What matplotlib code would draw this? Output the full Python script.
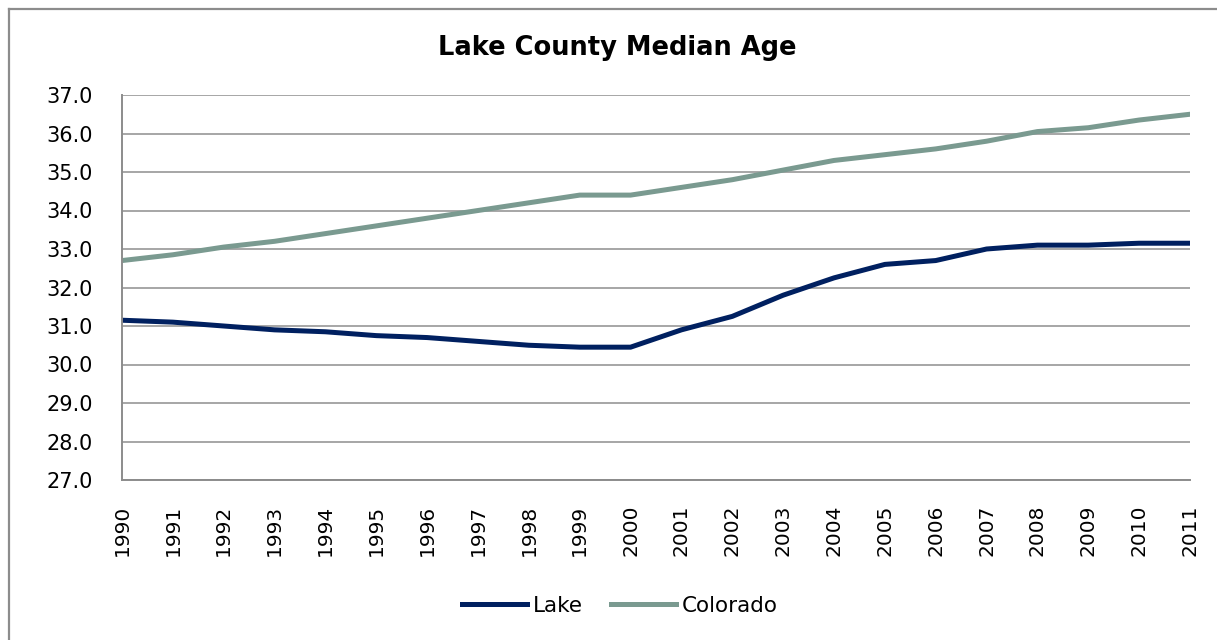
import matplotlib
matplotlib.use("Agg")
import matplotlib.pyplot as plt
from matplotlib.lines import Line2D

years = [str(y) for y in range(1990, 2012)]
lake = [31.15, 31.1, 31.0, 30.9, 30.85, 30.75, 30.7, 30.6, 30.5, 30.45, 30.45,
        30.9, 31.25, 31.8, 32.25, 32.6, 32.7, 33.0, 33.1, 33.1, 33.15, 33.15]
colorado = [32.7, 32.85, 33.05, 33.2, 33.4, 33.6, 33.8, 34.0, 34.2, 34.4, 34.4,
            34.6, 34.8, 35.05, 35.3, 35.45, 35.6, 35.8, 36.05, 36.15, 36.35, 36.5]
yticks = [27.0, 28.0, 29.0, 30.0, 31.0, 32.0, 33.0, 34.0, 35.0, 36.0, 37.0]

W, H = 1217, 640
fig = plt.figure(figsize=(W / 100, H / 100), dpi=100)
ax = fig.add_axes([122 / W, 1 - 480 / H, (1190 - 122) / W, (480 - 95) / H])

# outer chart border (top and left edges visible)
bx, by = 9 / W, 1 - 8.5 / H
fig.lines.append(Line2D([bx, 1.0], [by, by], transform=fig.transFigure,
                        color="#8c8c8c", linewidth=1.6))
fig.lines.append(Line2D([bx, bx], [by, 0.0], transform=fig.transFigure,
                        color="#8c8c8c", linewidth=1.6))

x = list(range(len(years)))
ax.plot(x, lake, color="#002060", linewidth=3.6, label="Lake")
ax.plot(x, colorado, color="#7a9a90", linewidth=3.6, label="Colorado")

ax.set_xlim(0, len(years) - 1)
ax.set_ylim(27, 37)
ax.set_yticks(yticks)
ax.set_yticklabels([f"{v:.1f}" for v in yticks], fontsize=15, family="DejaVu Sans")
ax.set_xticks(x)
ax.set_xticklabels(years, rotation=90, fontsize=14.5, family="DejaVu Sans")
ax.grid(axis="y", color="#a6a6a6", linewidth=1.4)
ax.set_axisbelow(True)
for s in ["top", "right"]:
    ax.spines[s].set_visible(False)
for s in ["left", "bottom"]:
    ax.spines[s].set_color("#8c8c8c")
    ax.spines[s].set_linewidth(1.4)
ax.tick_params(axis="y", length=0, pad=21)
ax.tick_params(axis="x", length=0, pad=18)

fig.text(617 / W, 1 - 48 / H, "Lake County Median Age", ha="center", va="center",
         fontsize=18.5, fontweight="bold", family="DejaVu Sans")
fig.legend(loc="center", bbox_to_anchor=(620 / W, 1 - 606 / H), ncol=2, frameon=False,
           handlelength=3.0, columnspacing=1.3, handletextpad=0.3,
           prop={"family": "DejaVu Sans", "size": 15.5})

fig.savefig("out.png", dpi=100)
